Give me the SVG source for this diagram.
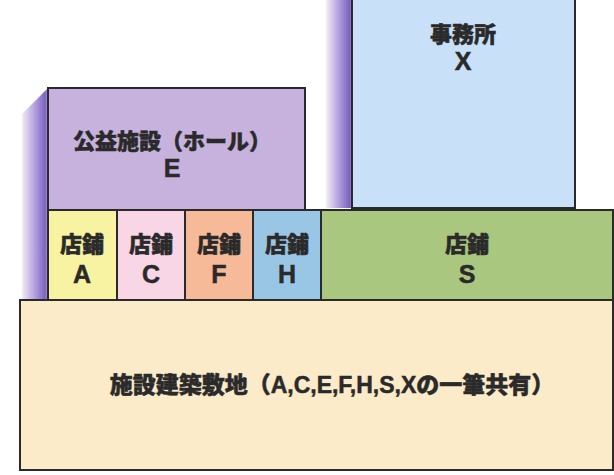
<svg xmlns="http://www.w3.org/2000/svg" width="614" height="475" viewBox="0 0 614 475">
<defs>
<linearGradient id="shadeX" x1="0" y1="0" x2="1" y2="0">
<stop offset="0" stop-color="#f2eefa"/>
<stop offset="0.6" stop-color="#a48ed6"/>
<stop offset="0.9" stop-color="#7c62c0"/>
<stop offset="1" stop-color="#9a86d0"/>
</linearGradient>
<linearGradient id="shadeE" x1="0" y1="0" x2="1" y2="0">
<stop offset="0" stop-color="#f0ecf8"/>
<stop offset="0.6" stop-color="#a690d8"/>
<stop offset="0.88" stop-color="#7e64c2"/>
<stop offset="1" stop-color="#a896d6"/>
</linearGradient>
</defs>
<style>
.box{stroke:#2a2a2a;stroke-width:2}
.t{font-family:"Liberation Sans","Noto Sans CJK JP",sans-serif;font-weight:900;fill:#2a2a2a;stroke:#2a2a2a;stroke-width:0.5;text-anchor:middle}
.s{font-size:22px}
.l{font-size:25px}
.g{font-size:23px}
</style>
<rect width="614" height="475" fill="#ffffff"/>
<g id="shadows">
<rect x="326" y="0" width="26" height="208" fill="url(#shadeX)"/>
<polygon points="48,88 22,114 22,300 48,300" fill="url(#shadeE)"/>
</g>
<g id="node-X">
<rect class="box" x="352" y="-5" width="223" height="213" fill="#c9e1f8"/>
<text class="t s" x="463" y="42">事務所</text>
<text class="t l" x="463" y="70">X</text>
</g>
<g id="node-E">
<rect class="box" x="48" y="88" width="257" height="122" fill="#c6b2dd"/>
<text class="t s" x="172" y="149">公益施設（ホール）</text>
<text class="t l" x="172" y="177">E</text>
</g>
<g id="node-A">
<rect class="box" x="48" y="210" width="69" height="90" fill="#f8f3a2"/>
<text class="t s" x="82" y="252">店鋪</text>
<text class="t l" x="82" y="283">A</text>
</g>
<g id="node-C">
<rect class="box" x="117" y="210" width="68" height="90" fill="#f9d6e6"/>
<text class="t s" x="151" y="252">店鋪</text>
<text class="t l" x="151" y="283">C</text>
</g>
<g id="node-F">
<rect class="box" x="185" y="210" width="68" height="90" fill="#f7ba98"/>
<text class="t s" x="219" y="252">店鋪</text>
<text class="t l" x="219" y="283">F</text>
</g>
<g id="node-H">
<rect class="box" x="253" y="210" width="68" height="90" fill="#9ac6e6"/>
<text class="t s" x="287" y="252">店鋪</text>
<text class="t l" x="287" y="283">H</text>
</g>
<g id="node-S">
<rect class="box" x="321" y="210" width="292" height="90" fill="#a9c77e"/>
<text class="t s" x="467" y="252">店鋪</text>
<text class="t l" x="467" y="283">S</text>
</g>
<g id="node-ground">
<rect class="box" x="20" y="300" width="593" height="170" fill="#fcebc9"/>
<text class="t g" x="332" y="393">施設建築敷地（A,C,E,F,H,S,Xの一筆共有）</text>
</g>
<g id="connectors"/>
</svg>
